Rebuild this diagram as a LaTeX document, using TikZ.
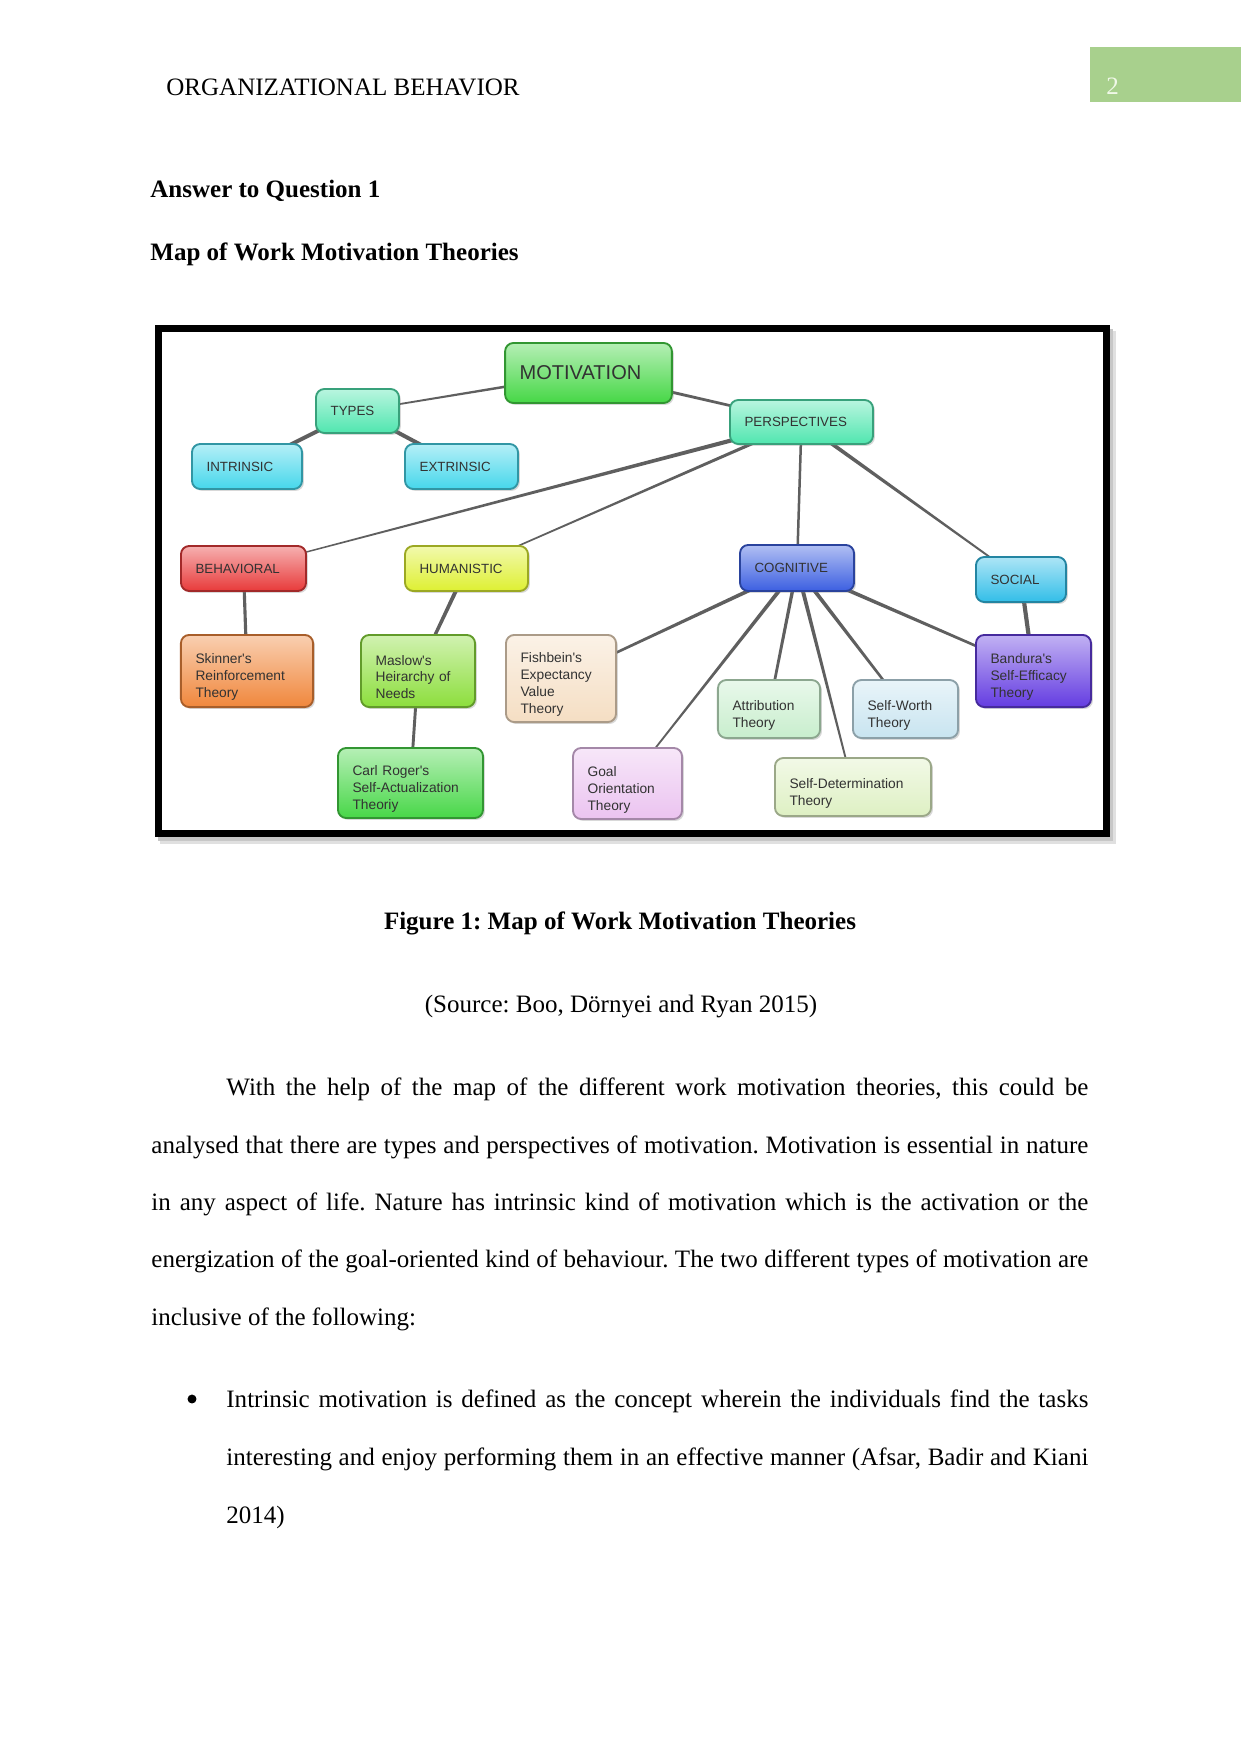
\documentclass[tikz,border=0pt]{standalone}
\usepackage{fontspec}
\setmainfont{Liberation Serif}
\newfontfamily\sansf{Liberation Sans}
\usetikzlibrary{calc,shadows,backgrounds}
\frenchspacing
\definecolor{edgec}{RGB}{95,95,95}
\definecolor{txtc}{RGB}{50,50,50}
\definecolor{pagegreen}{RGB}{168,208,141}
\definecolor{pagenum}{RGB}{240,248,232}
\definecolor{motc}{RGB}{70,215,70}
\definecolor{typec}{RGB}{80,230,175}
\definecolor{cyanc}{RGB}{70,215,235}
\definecolor{redc}{RGB}{232,58,58}
\definecolor{yelc}{RGB}{222,240,50}
\definecolor{bluec}{RGB}{60,95,225}
\definecolor{socc}{RGB}{50,190,232}
\definecolor{orc}{RGB}{240,135,60}
\definecolor{lgc}{RGB}{140,222,60}
\definecolor{carlc}{RGB}{72,215,72}
\definecolor{beigec}{RGB}{245,222,195}
\definecolor{pinkc}{RGB}{235,195,240}
\definecolor{attrc}{RGB}{200,238,205}
\definecolor{worthc}{RGB}{200,228,240}
\definecolor{sdetc}{RGB}{222,240,195}
\definecolor{purc}{RGB}{100,60,225}
\newcommand\nodefont{\sansf\fontsize{6.6}{8.1}\selectfont\frenchspacing}
\newcommand\capfont{\sansf\fontsize{6.4}{8}\selectfont}
\newcommand\tp{\rule{0pt}{10.6pt}}
\tikzset{
  cnode/.style={rounded corners=4pt, line width=0.9pt, inner xsep=7pt, inner ysep=1pt,
    align=left, font=\nodefont, text=txtc,
    drop shadow={opacity=0.3, shadow xshift=0.9pt, shadow yshift=-0.9pt}},
  col/.style={top color=#1!40!white, bottom color=#1, draw=#1!70!black},
  bodytext/.style={font=\fontsize{12}{14}\selectfont, inner sep=0pt, anchor=base west},
}
\newcommand\tedge[4]{\fill[edgec] ($(#1)!#3!90:(#2)$) -- ($(#1)!#3!-90:(#2)$) -- ($(#2)!#4!90:(#1)$) -- ($(#2)!#4!-90:(#1)$) -- cycle;}
\begin{document}
\begin{tikzpicture}[x=0.4797pt,y=-0.4797pt]
\useasboundingbox (0,0) rectangle (1241,1754);

% header
\node[bodytext] (hdr) at (166,96) {ORGANIZATIONAL BEHAVIOR};
\fill[pagegreen] (1090,47) rectangle (1241,102);
\node[bodytext, text=pagenum] (pnum) at (1106,95) {2};
\node[bodytext, font=\fontsize{12}{14}\selectfont\bfseries] (h1) at (150,197) {Answer to Question 1};
\node[bodytext, font=\fontsize{12}{14}\selectfont\bfseries] (h2) at (150,260) {Map of Work Motivation Theories};

% concept map nodes
\node[cnode, col=motc, text width=66pt, minimum height=28.8pt, font=\sansf\fontsize{9.6}{11}\selectfont] (mot) at (588.5,373) {MOTIVATION};
\node[cnode, col=typec, text width=25.8pt, minimum height=21.1pt, font=\capfont] (types) at (357.5,411) {TYPES};
\node[cnode, col=cyanc, text width=38.8pt, minimum height=21.6pt, font=\capfont] (intr) at (247,466.5) {INTRINSIC};
\node[cnode, col=cyanc, text width=40.2pt, minimum height=21.6pt, font=\capfont] (extr) at (461.5,466.5) {EXTRINSIC};
\node[cnode, col=typec, text width=54.6pt, minimum height=21.1pt, font=\capfont] (persp) at (801.5,422) {PERSPECTIVES};
\node[cnode, col=redc, text width=46pt, minimum height=21.6pt, font=\capfont] (behav) at (243.5,568.5) {BEHAVIORAL};
\node[cnode, col=yelc, text width=45pt, minimum height=21.6pt, font=\capfont] (human) at (466.5,568.5) {HUMANISTIC};
\node[cnode, col=bluec, text width=40.7pt, minimum height=22.1pt, font=\capfont] (cogn) at (797,568) {COGNITIVE};
\node[cnode, col=socc, text width=29.2pt, minimum height=21.6pt, font=\capfont] (social) at (1021,579.5) {SOCIAL};
\node[cnode, col=orc, text width=49.4pt, minimum height=34.6pt] (skin) at (247,671) {\tp Skinner's\\Reinforcement\\Theory};
\node[cnode, col=lgc, text width=40.7pt, minimum height=34.6pt] (maslow) at (418,671) {\tp Maslow's\\Heirarchy of\\Needs};
\node[cnode, col=carlc, text width=55.6pt, minimum height=33.6pt] (carl) at (410.5,783) {\tp Carl Roger's\\Self-Actualization\\Theoriy};
\node[cnode, col=beigec, text width=38.8pt, minimum height=41.8pt] (fish) at (561,678.5) {\tp Fishbein's\\Expectancy\\Value\\Theory};
\node[cnode, col=pinkc, text width=38.3pt, minimum height=34.1pt] (goal) at (627.5,783.5) {\tp Goal\\Orientation\\Theory};
\node[cnode, col=attrc, text width=35pt, minimum height=27.8pt] (attr) at (769,709) {\tp Attribution\\Theory};
\node[cnode, col=worthc, text width=36.4pt, minimum height=27.8pt] (worth) at (905.5,709) {\tp Self-Worth\\Theory};
\node[cnode, col=sdetc, text width=60.9pt, minimum height=27.8pt] (sdet) at (853,787) {\tp Self-Determination\\Theory};
\node[cnode, col=purc, text width=41.2pt, minimum height=34.6pt] (band) at (1033.5,671) {\tp Bandura's\\Self-Efficacy\\Theory};

% frame and connectors behind the nodes
\begin{scope}[on background layer]
  \fill[black!12] (160,331) rectangle (1116,844);
  \fill[black!22] (158,329) rectangle (1113,841);
  \fill[white] (155,325) rectangle (1110,837);
  \draw[line width=3.4pt] (158.5,328.5) rectangle (1106.5,833.5);
  \tedge{mot}{types}{0.75pt}{0.35pt}
  \tedge{types}{intr}{0.95pt}{0.95pt}
  \tedge{types}{extr}{0.95pt}{0.95pt}
  \tedge{mot}{persp}{0.75pt}{0.6pt}
  \tedge{persp}{behav}{1.1pt}{0.25pt}
  \tedge{persp}{human}{0.85pt}{0.3pt}
  \tedge{persp}{cogn}{0.6pt}{0.6pt}
  \tedge{persp}{social}{1.0pt}{0.35pt}
  \tedge{behav}{skin}{0.75pt}{0.75pt}
  \tedge{human}{maslow}{1.0pt}{0.7pt}
  \tedge{maslow}{carl}{0.7pt}{0.7pt}
  \tedge{social}{band}{1.0pt}{1.0pt}
  \tedge{cogn}{fish}{1.0pt}{0.5pt}
  \tedge{cogn}{goal}{1.0pt}{0.3pt}
  \tedge{cogn}{attr}{0.85pt}{0.6pt}
  \tedge{cogn}{sdet}{1.0pt}{0.35pt}
  \tedge{cogn}{worth}{1.0pt}{0.5pt}
  \tedge{cogn}{band}{1.0pt}{0.5pt}
\end{scope}

% caption
\node[bodytext, anchor=base, font=\fontsize{12}{14}\selectfont\bfseries] (cap) at (620,929) {Figure 1: Map of Work Motivation Theories};
\node[bodytext, anchor=base] (src) at (621,1012) {(Source: Boo, Dörnyei and Ryan 2015)};

% paragraph
\node[bodytext] (p1) at (226,1095) {\hbox to 413.5pt{With the help of the map of the different work motivation theories, this could be}};
\node[bodytext] (p2) at (151,1153) {\hbox to 449.5pt{analysed that there are types and perspectives of motivation. Motivation is essential in nature}};
\node[bodytext] (p3) at (151,1210) {\hbox to 449.5pt{in any aspect of life. Nature has intrinsic kind of motivation which is the activation or the}};
\node[bodytext] (p4) at (151,1267) {\hbox to 449.5pt{energization of the goal-oriented kind of behaviour. The two different types of motivation are}};
\node[bodytext] (p5) at (151,1325) {inclusive of the following:};

% bullet
\node[circle, fill=black, inner sep=0pt, minimum size=4.3pt] (bul) at (192,1399) {};
\node[bodytext] (b1) at (226,1407) {\hbox to 413.5pt{Intrinsic motivation is defined as the concept wherein the individuals find the tasks}};
\node[bodytext] (b2) at (226,1465) {\hbox to 413.5pt{interesting and enjoy performing them in an effective manner (Afsar, Badir and Kiani}};
\node[bodytext] (b3) at (226,1523) {2014)};
\end{tikzpicture}
\end{document}
